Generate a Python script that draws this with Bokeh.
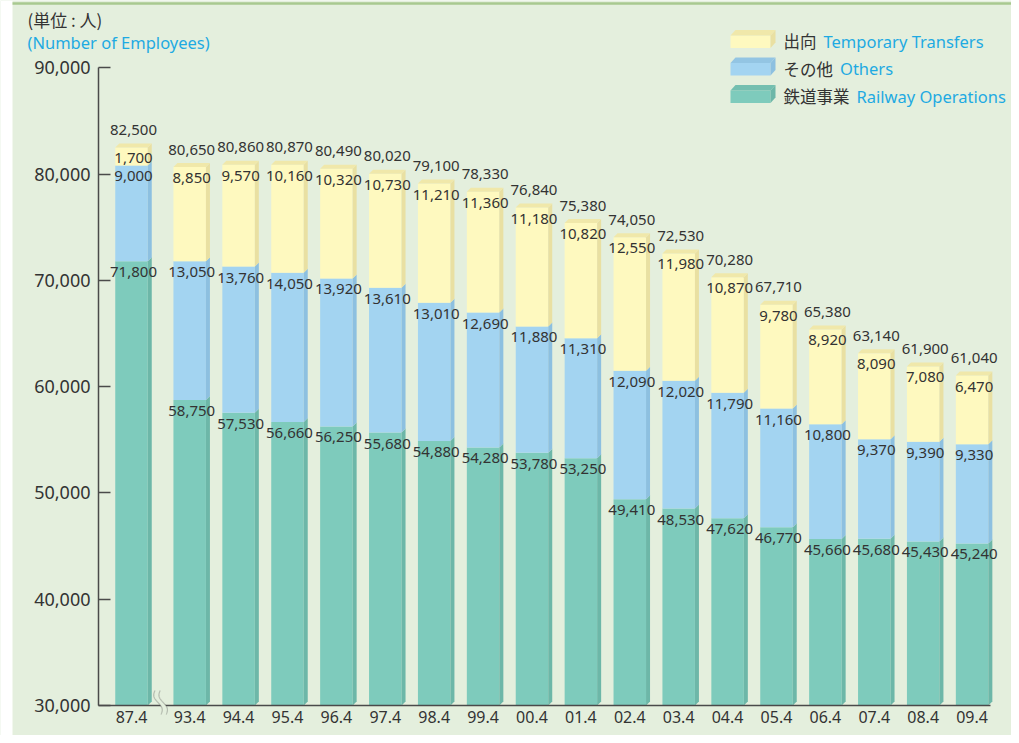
import numpy as np
from bokeh.plotting import figure
from bokeh.models import (Range1d, FixedTicker, Label, NumeralTickFormatter,
                          PolyAnnotation)
from bokeh.core.properties import value
from bokeh.embed import file_html
from bokeh.resources import INLINE

# ---------------- data ----------------
categories = ["87.4", "93.4", "94.4", "95.4", "96.4", "97.4", "98.4", "99.4", "00.4",
              "01.4", "02.4", "03.4", "04.4", "05.4", "06.4", "07.4", "08.4", "09.4"]
railway = [71800, 58750, 57530, 56660, 56250, 55680, 54880, 54280, 53780,
           53250, 49410, 48530, 47620, 46770, 45660, 45680, 45430, 45240]
others = [9000, 13050, 13760, 14050, 13920, 13610, 13010, 12690, 11880,
          11310, 12090, 12020, 11790, 11160, 10800, 9370, 9390, 9330]
transfers = [1700, 8850, 9570, 10160, 10320, 10730, 11210, 11360, 11180,
             10820, 12550, 11980, 10870, 9780, 8920, 8090, 7080, 6470]
totals = [82500, 80650, 80860, 80870, 80490, 80020, 79100, 78330, 76840,
          75380, 74050, 72530, 70280, 67710, 65380, 63140, 61900, 61040]
y_ticks = [30000, 40000, 50000, 60000, 70000, 80000, 90000]
legend_jp = ["出向", "その他", "鉄道事業"]
legend_en = ["Temporary Transfers", "Others", "Railway Operations"]
unit_jp = "(単位 : 人)"
unit_en = "(Number of Employees)"

# ---------------- style ----------------
BG = "#E4EFDD"
TEXT = "#333333"
CYAN = "#1EAAE2"
AXIS = "#4A4A4A"
FRONT = ["#FEF9BF", "#A3D4F1", "#7ECBBC"]   # transfers, others, railway
SIDE = ["#E9E0A2", "#8DC0E0", "#6DB7A8"]
TOPC = ["#F0E8AA", "#93C5E3", "#74BFB0"]
RULE = "#A8C98F"

W, H = 1011, 735
AX_L, AX_R, AX_B = 98, 990, 705     # axis positions in canvas pixels
X0_PX = 131                          # centre of first bar
PITCH = 100
GAP = 19
xpos = [i * PITCH + (GAP if i else 0) for i in range(len(categories))]
PX_X = 48.9 / PITCH
PX_Y = 10.63 / 1000
x_start = xpos[0] - X0_PX / PX_X
x_end = x_start + W / PX_X
y_start = y_ticks[0] - (H - AX_B) * 1.0 / PX_Y
y_end = y_ticks[0] + AX_B / PX_Y


def X(px):
    return x_start + px / PX_X


def Y(py):
    return y_end - py / PX_Y


def DX(px):
    return px / PX_X


def DY(px):
    return px / PX_Y


BW = DX(32.5)
DDX, DDY = DX(4), DY(4)

p = figure(width=W, height=H, output_backend="svg", toolbar_location=None,
           x_range=Range1d(x_start, x_end), y_range=Range1d(y_start, y_end),
           min_border=0, title=None)
p.background_fill_color = BG
p.border_fill_color = BG
p.outline_line_color = None
p.grid.visible = False

# page frame: white left strip and green top rule
p.quad(left=X(0), right=X(12), top=Y(0), bottom=Y(H), fill_color="white", line_color=None)
p.quad(left=X(12), right=X(W), top=Y(1.8), bottom=Y(4.2), fill_color=RULE, line_color=None)

# ---------------- bars ----------------
base = y_ticks[0]
rail_b = [base] * len(categories)
rail_t = list(railway)
oth_b = rail_t
oth_t = [a + b for a, b in zip(railway, others)]
tr_b = oth_t
tr_t = [a + b for a, b in zip(oth_t, transfers)]

segments = [(rail_b, rail_t, 2), (oth_b, oth_t, 1), (tr_b, tr_t, 0)]
for bot, top, ci in segments:
    left = [x - BW / 2 for x in xpos]
    right = [x + BW / 2 for x in xpos]
    p.quad(left=left, right=right, bottom=bot, top=top,
           fill_color=FRONT[ci], line_color=None)
    sxs = [[r, r + DDX, r + DDX, r] for r in right]
    sys_ = [[b, b + DDY, t + DDY, t] for b, t in zip(bot, top)]
    p.patches(xs=sxs, ys=sys_, fill_color=SIDE[ci], line_color=None)

txs = [[x - BW / 2, x - BW / 2 + DDX, x + BW / 2 + DDX, x + BW / 2] for x in xpos]
tys = [[t, t + DDY, t + DDY, t] for t in tr_t]
p.patches(xs=txs, ys=tys, fill_color=TOPC[0], line_color=None)

# ---------------- value labels ----------------
xc = [x + DDX / 2 for x in xpos]
fmt = lambda v: f"{v:,}"
common = dict(text_font=value("Noto Sans"), text_font_size="15px", text_color=TEXT,
              text_align="center", text_baseline="middle")
p.text(x=xc, y=rail_t, text=[fmt(v) for v in railway], y_offset=11, **common)
p.text(x=xc, y=oth_t, text=[fmt(v) for v in others], y_offset=11, **common)
p.text(x=xc, y=tr_t, text=[fmt(v) for v in transfers], y_offset=11, **common)
p.text(x=xc, y=tr_t, text=[fmt(v) for v in totals], y_offset=-17.5, **common)

# ---------------- axes ----------------
yax = p.yaxis[0]
yax.fixed_location = X(AX_L)
yax.bounds = (y_ticks[0], y_ticks[-1])
yax.ticker = FixedTicker(ticks=y_ticks)
yax.formatter = NumeralTickFormatter(format="0,0")
yax.axis_line_color = AXIS
yax.axis_line_width = 1.5
yax.major_tick_line_color = AXIS
yax.major_tick_line_width = 1.5
yax.major_tick_in = 12
yax.major_tick_out = 0
yax.minor_tick_line_color = None
yax.major_label_text_font = "Noto Sans"
yax.major_label_text_font_size = "18px"
yax.major_label_text_color = TEXT
yax.major_label_standoff = 8

xax = p.xaxis[0]
xax.fixed_location = y_ticks[0]
xax.bounds = (X(AX_L), X(AX_R))
xax.ticker = FixedTicker(ticks=xpos)
xax.major_label_overrides = {x: c for x, c in zip(xpos, categories)}
xax.axis_line_color = AXIS
xax.axis_line_width = 1.5
xax.major_tick_line_color = None
xax.minor_tick_line_color = None
xax.major_tick_in = 0
xax.major_tick_out = 0
xax.major_label_text_font = "Noto Sans"
xax.major_label_text_font_size = "16px"
xax.major_label_text_color = TEXT
xax.major_label_standoff = 5

# ---------------- axis break ----------------
cx = (xpos[0] + xpos[1]) / 2
t = np.linspace(-1, 1, 40)


def wave(off):
    xs = [cx + DX(off + 3.0 * tt + 2.6 * np.sin(np.pi * tt)) for tt in t]
    ys = [base + DY(3) - DY(12 * tt) for tt in t]
    return xs, ys


lx, ly = wave(-2.6)
rx, ry = wave(2.6)
p.add_layout(PolyAnnotation(xs=lx + rx[::-1], ys=ly + ry[::-1], fill_color=BG,
                            fill_alpha=1, line_color=None))
for wx, wy in ((lx, ly), (rx, ry)):
    p.add_layout(PolyAnnotation(xs=wx + wx[::-1], ys=wy + wy[::-1], fill_alpha=0,
                                line_color=AXIS, line_width=1.2))

# ---------------- unit labels ----------------
p.add_layout(Label(x=X(27), y=Y(18.5), text=unit_jp, text_font="Noto Sans CJK JP",
                   text_font_size="17px", text_color=TEXT, text_baseline="middle"))
p.add_layout(Label(x=X(27), y=Y(41.5), text=unit_en, text_font="Noto Sans",
                   text_font_size="16.5px", text_color=CYAN, text_baseline="middle"))

# ---------------- legend ----------------
row_tops = [35, 62.5, 90]
for i, rt in enumerate(row_tops):
    l, r, tp, bt = X(730), X(770), Y(rt), Y(rt + 12.5)
    ldx, ldy = DX(5), DY(5.5)
    p.patch(x=[l, r, r, l], y=[bt, bt, tp, tp], fill_color=FRONT[i], line_color=None)
    p.patch(x=[r, r + ldx, r + ldx, r], y=[bt, bt + ldy, tp + ldy, tp],
            fill_color=SIDE[i], line_color=None)
    p.patch(x=[l, l + ldx, r + ldx, r], y=[tp, tp + ldy, tp + ldy, tp],
            fill_color=TOPC[i], line_color=None)
    cy = Y(rt + 5.5)
    p.add_layout(Label(x=X(783), y=cy, text=legend_jp[i], text_font="Noto Sans CJK JP",
                       text_font_size="16.5px", text_color=TEXT, text_baseline="middle"))
    p.add_layout(Label(x=X(783 + 16.5 * len(legend_jp[i]) + 7), y=cy, text=legend_en[i],
                       text_font="Noto Sans", text_font_size="16.5px", text_color=CYAN,
                       text_baseline="middle"))

open("out.html", "w").write(file_html(p, INLINE))
